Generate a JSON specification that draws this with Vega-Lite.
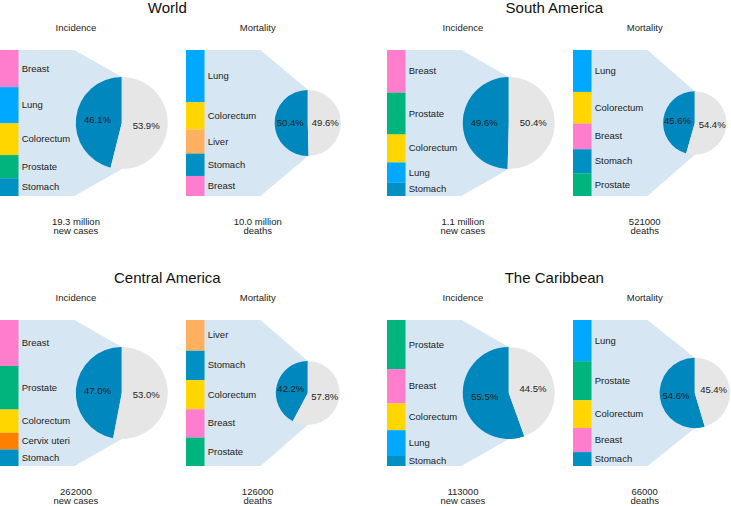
{
  "$schema": "https://vega.github.io/schema/vega-lite/v6.json",
  "padding": {"top": 1, "left": 0, "right": 0, "bottom": 0},
  "bounds": "flush",
  "columns": 4,
  "align": "each",
  "spacing": {"row": 124, "column": 40},
  "config": {"view": {"stroke": null}, "font": "Liberation Sans", "text": {"font": "Liberation Sans", "color": "#222222"}},
  "datasets": {
    "sites": [
      {"region": "World", "measure": "Incidence", "site": "Breast", "rank": 1, "share": 11.7},
      {"region": "World", "measure": "Incidence", "site": "Lung", "rank": 2, "share": 11.4},
      {"region": "World", "measure": "Incidence", "site": "Colorectum", "rank": 3, "share": 10.0},
      {"region": "World", "measure": "Incidence", "site": "Prostate", "rank": 4, "share": 7.3},
      {"region": "World", "measure": "Incidence", "site": "Stomach", "rank": 5, "share": 5.6},
      {"region": "World", "measure": "Mortality", "site": "Lung", "rank": 1, "share": 18.0},
      {"region": "World", "measure": "Mortality", "site": "Colorectum", "rank": 2, "share": 9.4},
      {"region": "World", "measure": "Mortality", "site": "Liver", "rank": 3, "share": 8.3},
      {"region": "World", "measure": "Mortality", "site": "Stomach", "rank": 4, "share": 7.7},
      {"region": "World", "measure": "Mortality", "site": "Breast", "rank": 5, "share": 6.9},
      {"region": "South America", "measure": "Incidence", "site": "Breast", "rank": 1, "share": 14.5},
      {"region": "South America", "measure": "Incidence", "site": "Prostate", "rank": 2, "share": 14.2},
      {"region": "South America", "measure": "Incidence", "site": "Colorectum", "rank": 3, "share": 9.5},
      {"region": "South America", "measure": "Incidence", "site": "Lung", "rank": 4, "share": 6.9},
      {"region": "South America", "measure": "Incidence", "site": "Stomach", "rank": 5, "share": 4.5},
      {"region": "South America", "measure": "Mortality", "site": "Lung", "rank": 1, "share": 13.1},
      {"region": "South America", "measure": "Mortality", "site": "Colorectum", "rank": 2, "share": 9.9},
      {"region": "South America", "measure": "Mortality", "site": "Breast", "rank": 3, "share": 8.0},
      {"region": "South America", "measure": "Mortality", "site": "Stomach", "rank": 4, "share": 7.5},
      {"region": "South America", "measure": "Mortality", "site": "Prostate", "rank": 5, "share": 7.1},
      {"region": "Central America", "measure": "Incidence", "site": "Breast", "rank": 1, "share": 14.8},
      {"region": "Central America", "measure": "Incidence", "site": "Prostate", "rank": 2, "share": 14.0},
      {"region": "Central America", "measure": "Incidence", "site": "Colorectum", "rank": 3, "share": 7.5},
      {"region": "Central America", "measure": "Incidence", "site": "Cervix uteri", "rank": 4, "share": 5.4},
      {"region": "Central America", "measure": "Incidence", "site": "Stomach", "rank": 5, "share": 5.3},
      {"region": "Central America", "measure": "Mortality", "site": "Liver", "rank": 1, "share": 8.9},
      {"region": "Central America", "measure": "Mortality", "site": "Stomach", "rank": 2, "share": 8.5},
      {"region": "Central America", "measure": "Mortality", "site": "Colorectum", "rank": 3, "share": 8.4},
      {"region": "Central America", "measure": "Mortality", "site": "Breast", "rank": 4, "share": 8.2},
      {"region": "Central America", "measure": "Mortality", "site": "Prostate", "rank": 5, "share": 8.2},
      {"region": "The Caribbean", "measure": "Incidence", "site": "Prostate", "rank": 1, "share": 18.7},
      {"region": "The Caribbean", "measure": "Incidence", "site": "Breast", "rank": 2, "share": 13.0},
      {"region": "The Caribbean", "measure": "Incidence", "site": "Colorectum", "rank": 3, "share": 10.2},
      {"region": "The Caribbean", "measure": "Incidence", "site": "Lung", "rank": 4, "share": 9.8},
      {"region": "The Caribbean", "measure": "Incidence", "site": "Stomach", "rank": 5, "share": 3.8},
      {"region": "The Caribbean", "measure": "Mortality", "site": "Lung", "rank": 1, "share": 15.4},
      {"region": "The Caribbean", "measure": "Mortality", "site": "Prostate", "rank": 2, "share": 14.6},
      {"region": "The Caribbean", "measure": "Mortality", "site": "Colorectum", "rank": 3, "share": 10.4},
      {"region": "The Caribbean", "measure": "Mortality", "site": "Breast", "rank": 4, "share": 9.0},
      {"region": "The Caribbean", "measure": "Mortality", "site": "Stomach", "rank": 5, "share": 5.2}
    ],
    "pies": [
      {"region": "World", "measure": "Incidence", "part": "Top 5 cancers", "share": 0.461, "total": 19300000},
      {"region": "World", "measure": "Incidence", "part": "Other cancers", "share": 0.539, "total": 19300000},
      {"region": "World", "measure": "Mortality", "part": "Top 5 cancers", "share": 0.504, "total": 10000000},
      {"region": "World", "measure": "Mortality", "part": "Other cancers", "share": 0.496, "total": 10000000},
      {"region": "South America", "measure": "Incidence", "part": "Top 5 cancers", "share": 0.496, "total": 1100000},
      {"region": "South America", "measure": "Incidence", "part": "Other cancers", "share": 0.504, "total": 1100000},
      {"region": "South America", "measure": "Mortality", "part": "Top 5 cancers", "share": 0.456, "total": 521000},
      {"region": "South America", "measure": "Mortality", "part": "Other cancers", "share": 0.544, "total": 521000},
      {"region": "Central America", "measure": "Incidence", "part": "Top 5 cancers", "share": 0.470, "total": 262000},
      {"region": "Central America", "measure": "Incidence", "part": "Other cancers", "share": 0.530, "total": 262000},
      {"region": "Central America", "measure": "Mortality", "part": "Top 5 cancers", "share": 0.422, "total": 126000},
      {"region": "Central America", "measure": "Mortality", "part": "Other cancers", "share": 0.578, "total": 126000},
      {"region": "The Caribbean", "measure": "Incidence", "part": "Top 5 cancers", "share": 0.555, "total": 113000},
      {"region": "The Caribbean", "measure": "Incidence", "part": "Other cancers", "share": 0.445, "total": 113000},
      {"region": "The Caribbean", "measure": "Mortality", "part": "Top 5 cancers", "share": 0.546, "total": 66000},
      {"region": "The Caribbean", "measure": "Mortality", "part": "Other cancers", "share": 0.454, "total": 66000}
    ],
    "captions": [
      {"region": "World", "measure": "Incidence", "caption": "19.3 million\nnew cases"},
      {"region": "World", "measure": "Mortality", "caption": "10.0 million\ndeaths"},
      {"region": "South America", "measure": "Incidence", "caption": "1.1 million\nnew cases"},
      {"region": "South America", "measure": "Mortality", "caption": "521000\ndeaths"},
      {"region": "Central America", "measure": "Incidence", "caption": "262000\nnew cases"},
      {"region": "Central America", "measure": "Mortality", "caption": "126000\ndeaths"},
      {"region": "The Caribbean", "measure": "Incidence", "caption": "113000\nnew cases"},
      {"region": "The Caribbean", "measure": "Mortality", "caption": "66000\ndeaths"}
    ],
    "funnel": [
      {"region": "World", "measure": "Incidence", "x": 0, "top": 1, "bottom": 0},
      {"region": "World", "measure": "Incidence", "x": 51, "top": 1, "bottom": 0},
      {"region": "World", "measure": "Incidence", "x": 83.4, "top": 0.815, "bottom": 0.185},
      {"region": "World", "measure": "Mortality", "x": 0, "top": 1, "bottom": 0},
      {"region": "World", "measure": "Mortality", "x": 51, "top": 1, "bottom": 0},
      {"region": "World", "measure": "Mortality", "x": 83.4, "top": 0.727, "bottom": 0.273},
      {"region": "South America", "measure": "Incidence", "x": 0, "top": 1, "bottom": 0},
      {"region": "South America", "measure": "Incidence", "x": 51, "top": 1, "bottom": 0},
      {"region": "South America", "measure": "Incidence", "x": 83.4, "top": 0.815, "bottom": 0.185},
      {"region": "South America", "measure": "Mortality", "x": 0, "top": 1, "bottom": 0},
      {"region": "South America", "measure": "Mortality", "x": 51, "top": 1, "bottom": 0},
      {"region": "South America", "measure": "Mortality", "x": 83.4, "top": 0.717, "bottom": 0.283},
      {"region": "Central America", "measure": "Incidence", "x": 0, "top": 1, "bottom": 0},
      {"region": "Central America", "measure": "Incidence", "x": 51, "top": 1, "bottom": 0},
      {"region": "Central America", "measure": "Incidence", "x": 83.4, "top": 0.815, "bottom": 0.185},
      {"region": "Central America", "measure": "Mortality", "x": 0, "top": 1, "bottom": 0},
      {"region": "Central America", "measure": "Mortality", "x": 51, "top": 1, "bottom": 0},
      {"region": "Central America", "measure": "Mortality", "x": 83.4, "top": 0.719, "bottom": 0.281},
      {"region": "The Caribbean", "measure": "Incidence", "x": 0, "top": 1, "bottom": 0},
      {"region": "The Caribbean", "measure": "Incidence", "x": 51, "top": 1, "bottom": 0},
      {"region": "The Caribbean", "measure": "Incidence", "x": 83.4, "top": 0.815, "bottom": 0.185},
      {"region": "The Caribbean", "measure": "Mortality", "x": 0, "top": 1, "bottom": 0},
      {"region": "The Caribbean", "measure": "Mortality", "x": 51, "top": 1, "bottom": 0},
      {"region": "The Caribbean", "measure": "Mortality", "x": 83.4, "top": 0.741, "bottom": 0.259}
    ]
  },
  "concat": [
    {
      "width": 146, "height": 146,
      "layer": [
        {"data": {"name": "funnel"}, "transform": [{"filter": "datum.region == 'World' && datum.measure == 'Incidence'"}],
         "mark": {"type": "area", "color": "#D6E6F2"},
         "encoding": {"x": {"field": "x", "type": "quantitative", "scale": {"domain": [0, 100], "nice": false, "zero": false}, "axis": null},
                      "y": {"field": "top", "type": "quantitative", "scale": {"domain": [0, 1], "nice": false, "zero": false}, "axis": null},
                      "y2": {"field": "bottom"}}},
        {"data": {"name": "sites"}, "transform": [{"filter": "datum.region == 'World' && datum.measure == 'Incidence'"}, {"stack": "share", "groupby": ["region", "measure"], "sort": [{"field": "rank", "order": "descending"}], "offset": "normalize", "as": ["y0", "y1"]}],
         "mark": {"type": "rect"},
         "encoding": {"x": {"datum": 0, "scale": {"domain": [0, 100], "nice": false, "zero": false}, "axis": null},
                      "x2": {"datum": 12.67},
                      "y": {"field": "y0", "type": "quantitative", "scale": {"domain": [0, 1], "nice": false, "zero": false}, "axis": null},
                      "y2": {"field": "y1"},
                      "color": {"field": "site", "type": "nominal", "legend": null, "scale": {"domain": ["Breast", "Lung", "Colorectum", "Prostate", "Stomach", "Liver", "Cervix uteri"], "range": ["#FF7DCD", "#00A9FF", "#FFD600", "#00B47D", "#0090C2", "#FFB061", "#FF7F00"]}}}},
        {"data": {"name": "sites"}, "transform": [{"filter": "datum.region == 'World' && datum.measure == 'Incidence'"}],
         "mark": {"type": "text", "align": "left", "baseline": "middle", "fontSize": 9.5, "dx": -51.3},
         "encoding": {"y": {"field": "share", "type": "quantitative", "stack": "normalize", "bandPosition": 0.5, "scale": {"domain": [0, 1], "nice": false, "zero": false}, "axis": null},
                      "detail": {"field": "site"},
                      "order": {"field": "rank", "sort": "descending"},
                      "text": {"field": "site"}}},
        {"data": {"name": "pies"}, "transform": [{"filter": "datum.region == 'World' && datum.measure == 'Incidence'"}, {"stack": "share", "groupby": ["region", "measure"], "sort": [{"field": "part", "order": "ascending"}], "as": ["t0", "t1"]}],
         "mark": {"type": "arc"},
         "encoding": {"x": {"datum": 83.4, "stack": null, "scale": {"domain": [0, 100], "nice": false, "zero": false}, "axis": null},
                      "y": {"datum": 0.5, "scale": {"domain": [0, 1], "nice": false, "zero": false}, "axis": null},
                      "theta": {"field": "t0", "type": "quantitative", "scale": {"domain": [0, 1]}},
                      "theta2": {"field": "t1"},
                      "radius": {"field": "total", "type": "quantitative", "scale": {"type": "sqrt", "domain": [0, 19300000], "range": [0, 46], "zero": true}},
                      "fill": {"field": "part", "type": "nominal", "legend": null, "scale": {"domain": ["Top 5 cancers", "Other cancers"], "range": ["#0087BE", "#E6E6E6"]}}}},
        {"data": {"name": "pies"}, "transform": [{"filter": "datum.region == 'World' && datum.measure == 'Incidence'"}],
         "mark": {"type": "text", "fontSize": 9.5, "align": "center", "baseline": "middle", "dx": 48.8},
         "encoding": {"theta": {"field": "share", "type": "quantitative", "stack": true, "scale": {"domain": [0, 1]}},
                      "radius": {"value": 24.5},
                      "detail": {"field": "part"},
                      "order": {"field": "part", "sort": "ascending"},
                      "text": {"field": "share", "type": "quantitative", "format": ".1%"}}},
        {"data": {"name": "captions"}, "transform": [{"filter": "datum.region == 'World' && datum.measure == 'Incidence'"}],
         "mark": {"type": "text", "fontSize": 9.5, "align": "center", "baseline": "top", "lineBreak": "\n", "lineHeight": 9.5},
         "encoding": {"x": {"datum": 52, "scale": {"domain": [0, 100], "nice": false, "zero": false}, "axis": null},
                      "y": {"datum": -0.142, "scale": {"domain": [0, 1], "nice": false, "zero": false}, "axis": null},
                      "text": {"field": "caption"}}},
        {"data": {"name": "captions"}, "transform": [{"filter": "datum.region == 'World' && datum.measure == 'Incidence'"}],
         "mark": {"type": "text", "fontSize": 9.5, "align": "center", "baseline": "alphabetic"},
         "encoding": {"x": {"datum": 52, "scale": {"domain": [0, 100], "nice": false, "zero": false}, "axis": null},
                      "y": {"datum": 1.127, "scale": {"domain": [0, 1], "nice": false, "zero": false}, "axis": null},
                      "text": {"field": "measure"}}},
        {"data": {"name": "captions"}, "transform": [{"filter": "datum.region == 'World' && datum.measure == 'Incidence'"}],
         "mark": {"type": "text", "fontSize": 15, "align": "center", "baseline": "alphabetic", "color": "#111111"},
         "encoding": {"x": {"datum": 114.6, "scale": {"domain": [0, 100], "nice": false, "zero": false}, "axis": null},
                      "y": {"datum": 1.2534, "scale": {"domain": [0, 1], "nice": false, "zero": false}, "axis": null},
                      "text": {"field": "region"}}}
      ]
    },
    {
      "width": 160.6, "height": 146,
      "layer": [
        {"data": {"name": "funnel"}, "transform": [{"filter": "datum.region == 'World' && datum.measure == 'Mortality'"}],
         "mark": {"type": "area", "color": "#D6E6F2"},
         "encoding": {"x": {"field": "x", "type": "quantitative", "scale": {"domain": [0, 110], "nice": false, "zero": false}, "axis": null},
                      "y": {"field": "top", "type": "quantitative", "scale": {"domain": [0, 1], "nice": false, "zero": false}, "axis": null},
                      "y2": {"field": "bottom"}}},
        {"data": {"name": "sites"}, "transform": [{"filter": "datum.region == 'World' && datum.measure == 'Mortality'"}, {"stack": "share", "groupby": ["region", "measure"], "sort": [{"field": "rank", "order": "descending"}], "offset": "normalize", "as": ["y0", "y1"]}],
         "mark": {"type": "rect"},
         "encoding": {"x": {"datum": 0, "scale": {"domain": [0, 110], "nice": false, "zero": false}, "axis": null},
                      "x2": {"datum": 12.67},
                      "y": {"field": "y0", "type": "quantitative", "scale": {"domain": [0, 1], "nice": false, "zero": false}, "axis": null},
                      "y2": {"field": "y1"},
                      "color": {"field": "site", "type": "nominal", "legend": null, "scale": {"domain": ["Breast", "Lung", "Colorectum", "Prostate", "Stomach", "Liver", "Cervix uteri"], "range": ["#FF7DCD", "#00A9FF", "#FFD600", "#00B47D", "#0090C2", "#FFB061", "#FF7F00"]}}}},
        {"data": {"name": "sites"}, "transform": [{"filter": "datum.region == 'World' && datum.measure == 'Mortality'"}],
         "mark": {"type": "text", "align": "left", "baseline": "middle", "fontSize": 9.5, "dx": -58.6},
         "encoding": {"y": {"field": "share", "type": "quantitative", "stack": "normalize", "bandPosition": 0.5, "scale": {"domain": [0, 1], "nice": false, "zero": false}, "axis": null},
                      "detail": {"field": "site"},
                      "order": {"field": "rank", "sort": "descending"},
                      "text": {"field": "site"}}},
        {"data": {"name": "pies"}, "transform": [{"filter": "datum.region == 'World' && datum.measure == 'Mortality'"}, {"stack": "share", "groupby": ["region", "measure"], "sort": [{"field": "part", "order": "ascending"}], "as": ["t0", "t1"]}],
         "mark": {"type": "arc"},
         "encoding": {"x": {"datum": 83.4, "stack": null, "scale": {"domain": [0, 110], "nice": false, "zero": false}, "axis": null},
                      "y": {"datum": 0.5, "scale": {"domain": [0, 1], "nice": false, "zero": false}, "axis": null},
                      "theta": {"field": "t0", "type": "quantitative", "scale": {"domain": [0, 1]}},
                      "theta2": {"field": "t1"},
                      "radius": {"field": "total", "type": "quantitative", "scale": {"type": "sqrt", "domain": [0, 19300000], "range": [0, 46], "zero": true}},
                      "fill": {"field": "part", "type": "nominal", "legend": null, "scale": {"domain": ["Top 5 cancers", "Other cancers"], "range": ["#0087BE", "#E6E6E6"]}}}},
        {"data": {"name": "pies"}, "transform": [{"filter": "datum.region == 'World' && datum.measure == 'Mortality'"}],
         "mark": {"type": "text", "fontSize": 9.5, "align": "center", "baseline": "middle", "dx": 41.5},
         "encoding": {"theta": {"field": "share", "type": "quantitative", "stack": true, "scale": {"domain": [0, 1]}},
                      "radius": {"value": 17.5},
                      "detail": {"field": "part"},
                      "order": {"field": "part", "sort": "ascending"},
                      "text": {"field": "share", "type": "quantitative", "format": ".1%"}}},
        {"data": {"name": "captions"}, "transform": [{"filter": "datum.region == 'World' && datum.measure == 'Mortality'"}],
         "mark": {"type": "text", "fontSize": 9.5, "align": "center", "baseline": "top", "lineBreak": "\n", "lineHeight": 9.5},
         "encoding": {"x": {"datum": 49.1, "scale": {"domain": [0, 110], "nice": false, "zero": false}, "axis": null},
                      "y": {"datum": -0.142, "scale": {"domain": [0, 1], "nice": false, "zero": false}, "axis": null},
                      "text": {"field": "caption"}}},
        {"data": {"name": "captions"}, "transform": [{"filter": "datum.region == 'World' && datum.measure == 'Mortality'"}],
         "mark": {"type": "text", "fontSize": 9.5, "align": "center", "baseline": "alphabetic"},
         "encoding": {"x": {"datum": 49.1, "scale": {"domain": [0, 110], "nice": false, "zero": false}, "axis": null},
                      "y": {"datum": 1.127, "scale": {"domain": [0, 1], "nice": false, "zero": false}, "axis": null},
                      "text": {"field": "measure"}}}
      ]
    },
    {
      "width": 146, "height": 146,
      "layer": [
        {"data": {"name": "funnel"}, "transform": [{"filter": "datum.region == 'South America' && datum.measure == 'Incidence'"}],
         "mark": {"type": "area", "color": "#D6E6F2"},
         "encoding": {"x": {"field": "x", "type": "quantitative", "scale": {"domain": [0, 100], "nice": false, "zero": false}, "axis": null},
                      "y": {"field": "top", "type": "quantitative", "scale": {"domain": [0, 1], "nice": false, "zero": false}, "axis": null},
                      "y2": {"field": "bottom"}}},
        {"data": {"name": "sites"}, "transform": [{"filter": "datum.region == 'South America' && datum.measure == 'Incidence'"}, {"stack": "share", "groupby": ["region", "measure"], "sort": [{"field": "rank", "order": "descending"}], "offset": "normalize", "as": ["y0", "y1"]}],
         "mark": {"type": "rect"},
         "encoding": {"x": {"datum": 0, "scale": {"domain": [0, 100], "nice": false, "zero": false}, "axis": null},
                      "x2": {"datum": 12.67},
                      "y": {"field": "y0", "type": "quantitative", "scale": {"domain": [0, 1], "nice": false, "zero": false}, "axis": null},
                      "y2": {"field": "y1"},
                      "color": {"field": "site", "type": "nominal", "legend": null, "scale": {"domain": ["Breast", "Lung", "Colorectum", "Prostate", "Stomach", "Liver", "Cervix uteri"], "range": ["#FF7DCD", "#00A9FF", "#FFD600", "#00B47D", "#0090C2", "#FFB061", "#FF7F00"]}}}},
        {"data": {"name": "sites"}, "transform": [{"filter": "datum.region == 'South America' && datum.measure == 'Incidence'"}],
         "mark": {"type": "text", "align": "left", "baseline": "middle", "fontSize": 9.5, "dx": -51.3},
         "encoding": {"y": {"field": "share", "type": "quantitative", "stack": "normalize", "bandPosition": 0.5, "scale": {"domain": [0, 1], "nice": false, "zero": false}, "axis": null},
                      "detail": {"field": "site"},
                      "order": {"field": "rank", "sort": "descending"},
                      "text": {"field": "site"}}},
        {"data": {"name": "pies"}, "transform": [{"filter": "datum.region == 'South America' && datum.measure == 'Incidence'"}, {"stack": "share", "groupby": ["region", "measure"], "sort": [{"field": "part", "order": "ascending"}], "as": ["t0", "t1"]}],
         "mark": {"type": "arc"},
         "encoding": {"x": {"datum": 83.4, "stack": null, "scale": {"domain": [0, 100], "nice": false, "zero": false}, "axis": null},
                      "y": {"datum": 0.5, "scale": {"domain": [0, 1], "nice": false, "zero": false}, "axis": null},
                      "theta": {"field": "t0", "type": "quantitative", "scale": {"domain": [0, 1]}},
                      "theta2": {"field": "t1"},
                      "radius": {"field": "total", "type": "quantitative", "scale": {"type": "sqrt", "domain": [0, 1100000], "range": [0, 46], "zero": true}},
                      "fill": {"field": "part", "type": "nominal", "legend": null, "scale": {"domain": ["Top 5 cancers", "Other cancers"], "range": ["#0087BE", "#E6E6E6"]}}}},
        {"data": {"name": "pies"}, "transform": [{"filter": "datum.region == 'South America' && datum.measure == 'Incidence'"}],
         "mark": {"type": "text", "fontSize": 9.5, "align": "center", "baseline": "middle", "dx": 48.8},
         "encoding": {"theta": {"field": "share", "type": "quantitative", "stack": true, "scale": {"domain": [0, 1]}},
                      "radius": {"value": 24.5},
                      "detail": {"field": "part"},
                      "order": {"field": "part", "sort": "ascending"},
                      "text": {"field": "share", "type": "quantitative", "format": ".1%"}}},
        {"data": {"name": "captions"}, "transform": [{"filter": "datum.region == 'South America' && datum.measure == 'Incidence'"}],
         "mark": {"type": "text", "fontSize": 9.5, "align": "center", "baseline": "top", "lineBreak": "\n", "lineHeight": 9.5},
         "encoding": {"x": {"datum": 52, "scale": {"domain": [0, 100], "nice": false, "zero": false}, "axis": null},
                      "y": {"datum": -0.142, "scale": {"domain": [0, 1], "nice": false, "zero": false}, "axis": null},
                      "text": {"field": "caption"}}},
        {"data": {"name": "captions"}, "transform": [{"filter": "datum.region == 'South America' && datum.measure == 'Incidence'"}],
         "mark": {"type": "text", "fontSize": 9.5, "align": "center", "baseline": "alphabetic"},
         "encoding": {"x": {"datum": 52, "scale": {"domain": [0, 100], "nice": false, "zero": false}, "axis": null},
                      "y": {"datum": 1.127, "scale": {"domain": [0, 1], "nice": false, "zero": false}, "axis": null},
                      "text": {"field": "measure"}}},
        {"data": {"name": "captions"}, "transform": [{"filter": "datum.region == 'South America' && datum.measure == 'Incidence'"}],
         "mark": {"type": "text", "fontSize": 15, "align": "center", "baseline": "alphabetic", "color": "#111111"},
         "encoding": {"x": {"datum": 114.6, "scale": {"domain": [0, 100], "nice": false, "zero": false}, "axis": null},
                      "y": {"datum": 1.2534, "scale": {"domain": [0, 1], "nice": false, "zero": false}, "axis": null},
                      "text": {"field": "region"}}}
      ]
    },
    {
      "width": 160.6, "height": 146,
      "layer": [
        {"data": {"name": "funnel"}, "transform": [{"filter": "datum.region == 'South America' && datum.measure == 'Mortality'"}],
         "mark": {"type": "area", "color": "#D6E6F2"},
         "encoding": {"x": {"field": "x", "type": "quantitative", "scale": {"domain": [0, 110], "nice": false, "zero": false}, "axis": null},
                      "y": {"field": "top", "type": "quantitative", "scale": {"domain": [0, 1], "nice": false, "zero": false}, "axis": null},
                      "y2": {"field": "bottom"}}},
        {"data": {"name": "sites"}, "transform": [{"filter": "datum.region == 'South America' && datum.measure == 'Mortality'"}, {"stack": "share", "groupby": ["region", "measure"], "sort": [{"field": "rank", "order": "descending"}], "offset": "normalize", "as": ["y0", "y1"]}],
         "mark": {"type": "rect"},
         "encoding": {"x": {"datum": 0, "scale": {"domain": [0, 110], "nice": false, "zero": false}, "axis": null},
                      "x2": {"datum": 12.67},
                      "y": {"field": "y0", "type": "quantitative", "scale": {"domain": [0, 1], "nice": false, "zero": false}, "axis": null},
                      "y2": {"field": "y1"},
                      "color": {"field": "site", "type": "nominal", "legend": null, "scale": {"domain": ["Breast", "Lung", "Colorectum", "Prostate", "Stomach", "Liver", "Cervix uteri"], "range": ["#FF7DCD", "#00A9FF", "#FFD600", "#00B47D", "#0090C2", "#FFB061", "#FF7F00"]}}}},
        {"data": {"name": "sites"}, "transform": [{"filter": "datum.region == 'South America' && datum.measure == 'Mortality'"}],
         "mark": {"type": "text", "align": "left", "baseline": "middle", "fontSize": 9.5, "dx": -58.6},
         "encoding": {"y": {"field": "share", "type": "quantitative", "stack": "normalize", "bandPosition": 0.5, "scale": {"domain": [0, 1], "nice": false, "zero": false}, "axis": null},
                      "detail": {"field": "site"},
                      "order": {"field": "rank", "sort": "descending"},
                      "text": {"field": "site"}}},
        {"data": {"name": "pies"}, "transform": [{"filter": "datum.region == 'South America' && datum.measure == 'Mortality'"}, {"stack": "share", "groupby": ["region", "measure"], "sort": [{"field": "part", "order": "ascending"}], "as": ["t0", "t1"]}],
         "mark": {"type": "arc"},
         "encoding": {"x": {"datum": 83.4, "stack": null, "scale": {"domain": [0, 110], "nice": false, "zero": false}, "axis": null},
                      "y": {"datum": 0.5, "scale": {"domain": [0, 1], "nice": false, "zero": false}, "axis": null},
                      "theta": {"field": "t0", "type": "quantitative", "scale": {"domain": [0, 1]}},
                      "theta2": {"field": "t1"},
                      "radius": {"field": "total", "type": "quantitative", "scale": {"type": "sqrt", "domain": [0, 1100000], "range": [0, 46], "zero": true}},
                      "fill": {"field": "part", "type": "nominal", "legend": null, "scale": {"domain": ["Top 5 cancers", "Other cancers"], "range": ["#0087BE", "#E6E6E6"]}}}},
        {"data": {"name": "pies"}, "transform": [{"filter": "datum.region == 'South America' && datum.measure == 'Mortality'"}],
         "mark": {"type": "text", "fontSize": 9.5, "align": "center", "baseline": "middle", "dx": 41.5},
         "encoding": {"theta": {"field": "share", "type": "quantitative", "stack": true, "scale": {"domain": [0, 1]}},
                      "radius": {"value": 17.5},
                      "detail": {"field": "part"},
                      "order": {"field": "part", "sort": "ascending"},
                      "text": {"field": "share", "type": "quantitative", "format": ".1%"}}},
        {"data": {"name": "captions"}, "transform": [{"filter": "datum.region == 'South America' && datum.measure == 'Mortality'"}],
         "mark": {"type": "text", "fontSize": 9.5, "align": "center", "baseline": "top", "lineBreak": "\n", "lineHeight": 9.5},
         "encoding": {"x": {"datum": 49.1, "scale": {"domain": [0, 110], "nice": false, "zero": false}, "axis": null},
                      "y": {"datum": -0.142, "scale": {"domain": [0, 1], "nice": false, "zero": false}, "axis": null},
                      "text": {"field": "caption"}}},
        {"data": {"name": "captions"}, "transform": [{"filter": "datum.region == 'South America' && datum.measure == 'Mortality'"}],
         "mark": {"type": "text", "fontSize": 9.5, "align": "center", "baseline": "alphabetic"},
         "encoding": {"x": {"datum": 49.1, "scale": {"domain": [0, 110], "nice": false, "zero": false}, "axis": null},
                      "y": {"datum": 1.127, "scale": {"domain": [0, 1], "nice": false, "zero": false}, "axis": null},
                      "text": {"field": "measure"}}}
      ]
    },
    {
      "width": 146, "height": 146,
      "layer": [
        {"data": {"name": "funnel"}, "transform": [{"filter": "datum.region == 'Central America' && datum.measure == 'Incidence'"}],
         "mark": {"type": "area", "color": "#D6E6F2"},
         "encoding": {"x": {"field": "x", "type": "quantitative", "scale": {"domain": [0, 100], "nice": false, "zero": false}, "axis": null},
                      "y": {"field": "top", "type": "quantitative", "scale": {"domain": [0, 1], "nice": false, "zero": false}, "axis": null},
                      "y2": {"field": "bottom"}}},
        {"data": {"name": "sites"}, "transform": [{"filter": "datum.region == 'Central America' && datum.measure == 'Incidence'"}, {"stack": "share", "groupby": ["region", "measure"], "sort": [{"field": "rank", "order": "descending"}], "offset": "normalize", "as": ["y0", "y1"]}],
         "mark": {"type": "rect"},
         "encoding": {"x": {"datum": 0, "scale": {"domain": [0, 100], "nice": false, "zero": false}, "axis": null},
                      "x2": {"datum": 12.67},
                      "y": {"field": "y0", "type": "quantitative", "scale": {"domain": [0, 1], "nice": false, "zero": false}, "axis": null},
                      "y2": {"field": "y1"},
                      "color": {"field": "site", "type": "nominal", "legend": null, "scale": {"domain": ["Breast", "Lung", "Colorectum", "Prostate", "Stomach", "Liver", "Cervix uteri"], "range": ["#FF7DCD", "#00A9FF", "#FFD600", "#00B47D", "#0090C2", "#FFB061", "#FF7F00"]}}}},
        {"data": {"name": "sites"}, "transform": [{"filter": "datum.region == 'Central America' && datum.measure == 'Incidence'"}],
         "mark": {"type": "text", "align": "left", "baseline": "middle", "fontSize": 9.5, "dx": -51.3},
         "encoding": {"y": {"field": "share", "type": "quantitative", "stack": "normalize", "bandPosition": 0.5, "scale": {"domain": [0, 1], "nice": false, "zero": false}, "axis": null},
                      "detail": {"field": "site"},
                      "order": {"field": "rank", "sort": "descending"},
                      "text": {"field": "site"}}},
        {"data": {"name": "pies"}, "transform": [{"filter": "datum.region == 'Central America' && datum.measure == 'Incidence'"}, {"stack": "share", "groupby": ["region", "measure"], "sort": [{"field": "part", "order": "ascending"}], "as": ["t0", "t1"]}],
         "mark": {"type": "arc"},
         "encoding": {"x": {"datum": 83.4, "stack": null, "scale": {"domain": [0, 100], "nice": false, "zero": false}, "axis": null},
                      "y": {"datum": 0.5, "scale": {"domain": [0, 1], "nice": false, "zero": false}, "axis": null},
                      "theta": {"field": "t0", "type": "quantitative", "scale": {"domain": [0, 1]}},
                      "theta2": {"field": "t1"},
                      "radius": {"field": "total", "type": "quantitative", "scale": {"type": "sqrt", "domain": [0, 262000], "range": [0, 46], "zero": true}},
                      "fill": {"field": "part", "type": "nominal", "legend": null, "scale": {"domain": ["Top 5 cancers", "Other cancers"], "range": ["#0087BE", "#E6E6E6"]}}}},
        {"data": {"name": "pies"}, "transform": [{"filter": "datum.region == 'Central America' && datum.measure == 'Incidence'"}],
         "mark": {"type": "text", "fontSize": 9.5, "align": "center", "baseline": "middle", "dx": 48.8},
         "encoding": {"theta": {"field": "share", "type": "quantitative", "stack": true, "scale": {"domain": [0, 1]}},
                      "radius": {"value": 24.5},
                      "detail": {"field": "part"},
                      "order": {"field": "part", "sort": "ascending"},
                      "text": {"field": "share", "type": "quantitative", "format": ".1%"}}},
        {"data": {"name": "captions"}, "transform": [{"filter": "datum.region == 'Central America' && datum.measure == 'Incidence'"}],
         "mark": {"type": "text", "fontSize": 9.5, "align": "center", "baseline": "top", "lineBreak": "\n", "lineHeight": 9.5},
         "encoding": {"x": {"datum": 52, "scale": {"domain": [0, 100], "nice": false, "zero": false}, "axis": null},
                      "y": {"datum": -0.142, "scale": {"domain": [0, 1], "nice": false, "zero": false}, "axis": null},
                      "text": {"field": "caption"}}},
        {"data": {"name": "captions"}, "transform": [{"filter": "datum.region == 'Central America' && datum.measure == 'Incidence'"}],
         "mark": {"type": "text", "fontSize": 9.5, "align": "center", "baseline": "alphabetic"},
         "encoding": {"x": {"datum": 52, "scale": {"domain": [0, 100], "nice": false, "zero": false}, "axis": null},
                      "y": {"datum": 1.127, "scale": {"domain": [0, 1], "nice": false, "zero": false}, "axis": null},
                      "text": {"field": "measure"}}},
        {"data": {"name": "captions"}, "transform": [{"filter": "datum.region == 'Central America' && datum.measure == 'Incidence'"}],
         "mark": {"type": "text", "fontSize": 15, "align": "center", "baseline": "alphabetic", "color": "#111111"},
         "encoding": {"x": {"datum": 114.6, "scale": {"domain": [0, 100], "nice": false, "zero": false}, "axis": null},
                      "y": {"datum": 1.2534, "scale": {"domain": [0, 1], "nice": false, "zero": false}, "axis": null},
                      "text": {"field": "region"}}}
      ]
    },
    {
      "width": 160.6, "height": 146,
      "layer": [
        {"data": {"name": "funnel"}, "transform": [{"filter": "datum.region == 'Central America' && datum.measure == 'Mortality'"}],
         "mark": {"type": "area", "color": "#D6E6F2"},
         "encoding": {"x": {"field": "x", "type": "quantitative", "scale": {"domain": [0, 110], "nice": false, "zero": false}, "axis": null},
                      "y": {"field": "top", "type": "quantitative", "scale": {"domain": [0, 1], "nice": false, "zero": false}, "axis": null},
                      "y2": {"field": "bottom"}}},
        {"data": {"name": "sites"}, "transform": [{"filter": "datum.region == 'Central America' && datum.measure == 'Mortality'"}, {"stack": "share", "groupby": ["region", "measure"], "sort": [{"field": "rank", "order": "descending"}], "offset": "normalize", "as": ["y0", "y1"]}],
         "mark": {"type": "rect"},
         "encoding": {"x": {"datum": 0, "scale": {"domain": [0, 110], "nice": false, "zero": false}, "axis": null},
                      "x2": {"datum": 12.67},
                      "y": {"field": "y0", "type": "quantitative", "scale": {"domain": [0, 1], "nice": false, "zero": false}, "axis": null},
                      "y2": {"field": "y1"},
                      "color": {"field": "site", "type": "nominal", "legend": null, "scale": {"domain": ["Breast", "Lung", "Colorectum", "Prostate", "Stomach", "Liver", "Cervix uteri"], "range": ["#FF7DCD", "#00A9FF", "#FFD600", "#00B47D", "#0090C2", "#FFB061", "#FF7F00"]}}}},
        {"data": {"name": "sites"}, "transform": [{"filter": "datum.region == 'Central America' && datum.measure == 'Mortality'"}],
         "mark": {"type": "text", "align": "left", "baseline": "middle", "fontSize": 9.5, "dx": -58.6},
         "encoding": {"y": {"field": "share", "type": "quantitative", "stack": "normalize", "bandPosition": 0.5, "scale": {"domain": [0, 1], "nice": false, "zero": false}, "axis": null},
                      "detail": {"field": "site"},
                      "order": {"field": "rank", "sort": "descending"},
                      "text": {"field": "site"}}},
        {"data": {"name": "pies"}, "transform": [{"filter": "datum.region == 'Central America' && datum.measure == 'Mortality'"}, {"stack": "share", "groupby": ["region", "measure"], "sort": [{"field": "part", "order": "ascending"}], "as": ["t0", "t1"]}],
         "mark": {"type": "arc"},
         "encoding": {"x": {"datum": 83.4, "stack": null, "scale": {"domain": [0, 110], "nice": false, "zero": false}, "axis": null},
                      "y": {"datum": 0.5, "scale": {"domain": [0, 1], "nice": false, "zero": false}, "axis": null},
                      "theta": {"field": "t0", "type": "quantitative", "scale": {"domain": [0, 1]}},
                      "theta2": {"field": "t1"},
                      "radius": {"field": "total", "type": "quantitative", "scale": {"type": "sqrt", "domain": [0, 262000], "range": [0, 46], "zero": true}},
                      "fill": {"field": "part", "type": "nominal", "legend": null, "scale": {"domain": ["Top 5 cancers", "Other cancers"], "range": ["#0087BE", "#E6E6E6"]}}}},
        {"data": {"name": "pies"}, "transform": [{"filter": "datum.region == 'Central America' && datum.measure == 'Mortality'"}],
         "mark": {"type": "text", "fontSize": 9.5, "align": "center", "baseline": "middle", "dx": 41.5},
         "encoding": {"theta": {"field": "share", "type": "quantitative", "stack": true, "scale": {"domain": [0, 1]}},
                      "radius": {"value": 17.5},
                      "detail": {"field": "part"},
                      "order": {"field": "part", "sort": "ascending"},
                      "text": {"field": "share", "type": "quantitative", "format": ".1%"}}},
        {"data": {"name": "captions"}, "transform": [{"filter": "datum.region == 'Central America' && datum.measure == 'Mortality'"}],
         "mark": {"type": "text", "fontSize": 9.5, "align": "center", "baseline": "top", "lineBreak": "\n", "lineHeight": 9.5},
         "encoding": {"x": {"datum": 49.1, "scale": {"domain": [0, 110], "nice": false, "zero": false}, "axis": null},
                      "y": {"datum": -0.142, "scale": {"domain": [0, 1], "nice": false, "zero": false}, "axis": null},
                      "text": {"field": "caption"}}},
        {"data": {"name": "captions"}, "transform": [{"filter": "datum.region == 'Central America' && datum.measure == 'Mortality'"}],
         "mark": {"type": "text", "fontSize": 9.5, "align": "center", "baseline": "alphabetic"},
         "encoding": {"x": {"datum": 49.1, "scale": {"domain": [0, 110], "nice": false, "zero": false}, "axis": null},
                      "y": {"datum": 1.127, "scale": {"domain": [0, 1], "nice": false, "zero": false}, "axis": null},
                      "text": {"field": "measure"}}}
      ]
    },
    {
      "width": 146, "height": 146,
      "layer": [
        {"data": {"name": "funnel"}, "transform": [{"filter": "datum.region == 'The Caribbean' && datum.measure == 'Incidence'"}],
         "mark": {"type": "area", "color": "#D6E6F2"},
         "encoding": {"x": {"field": "x", "type": "quantitative", "scale": {"domain": [0, 100], "nice": false, "zero": false}, "axis": null},
                      "y": {"field": "top", "type": "quantitative", "scale": {"domain": [0, 1], "nice": false, "zero": false}, "axis": null},
                      "y2": {"field": "bottom"}}},
        {"data": {"name": "sites"}, "transform": [{"filter": "datum.region == 'The Caribbean' && datum.measure == 'Incidence'"}, {"stack": "share", "groupby": ["region", "measure"], "sort": [{"field": "rank", "order": "descending"}], "offset": "normalize", "as": ["y0", "y1"]}],
         "mark": {"type": "rect"},
         "encoding": {"x": {"datum": 0, "scale": {"domain": [0, 100], "nice": false, "zero": false}, "axis": null},
                      "x2": {"datum": 12.67},
                      "y": {"field": "y0", "type": "quantitative", "scale": {"domain": [0, 1], "nice": false, "zero": false}, "axis": null},
                      "y2": {"field": "y1"},
                      "color": {"field": "site", "type": "nominal", "legend": null, "scale": {"domain": ["Breast", "Lung", "Colorectum", "Prostate", "Stomach", "Liver", "Cervix uteri"], "range": ["#FF7DCD", "#00A9FF", "#FFD600", "#00B47D", "#0090C2", "#FFB061", "#FF7F00"]}}}},
        {"data": {"name": "sites"}, "transform": [{"filter": "datum.region == 'The Caribbean' && datum.measure == 'Incidence'"}],
         "mark": {"type": "text", "align": "left", "baseline": "middle", "fontSize": 9.5, "dx": -51.3},
         "encoding": {"y": {"field": "share", "type": "quantitative", "stack": "normalize", "bandPosition": 0.5, "scale": {"domain": [0, 1], "nice": false, "zero": false}, "axis": null},
                      "detail": {"field": "site"},
                      "order": {"field": "rank", "sort": "descending"},
                      "text": {"field": "site"}}},
        {"data": {"name": "pies"}, "transform": [{"filter": "datum.region == 'The Caribbean' && datum.measure == 'Incidence'"}, {"stack": "share", "groupby": ["region", "measure"], "sort": [{"field": "part", "order": "ascending"}], "as": ["t0", "t1"]}],
         "mark": {"type": "arc"},
         "encoding": {"x": {"datum": 83.4, "stack": null, "scale": {"domain": [0, 100], "nice": false, "zero": false}, "axis": null},
                      "y": {"datum": 0.5, "scale": {"domain": [0, 1], "nice": false, "zero": false}, "axis": null},
                      "theta": {"field": "t0", "type": "quantitative", "scale": {"domain": [0, 1]}},
                      "theta2": {"field": "t1"},
                      "radius": {"field": "total", "type": "quantitative", "scale": {"type": "sqrt", "domain": [0, 113000], "range": [0, 46], "zero": true}},
                      "fill": {"field": "part", "type": "nominal", "legend": null, "scale": {"domain": ["Top 5 cancers", "Other cancers"], "range": ["#0087BE", "#E6E6E6"]}}}},
        {"data": {"name": "pies"}, "transform": [{"filter": "datum.region == 'The Caribbean' && datum.measure == 'Incidence'"}],
         "mark": {"type": "text", "fontSize": 9.5, "align": "center", "baseline": "middle", "dx": 48.8},
         "encoding": {"theta": {"field": "share", "type": "quantitative", "stack": true, "scale": {"domain": [0, 1]}},
                      "radius": {"value": 24.5},
                      "detail": {"field": "part"},
                      "order": {"field": "part", "sort": "ascending"},
                      "text": {"field": "share", "type": "quantitative", "format": ".1%"}}},
        {"data": {"name": "captions"}, "transform": [{"filter": "datum.region == 'The Caribbean' && datum.measure == 'Incidence'"}],
         "mark": {"type": "text", "fontSize": 9.5, "align": "center", "baseline": "top", "lineBreak": "\n", "lineHeight": 9.5},
         "encoding": {"x": {"datum": 52, "scale": {"domain": [0, 100], "nice": false, "zero": false}, "axis": null},
                      "y": {"datum": -0.142, "scale": {"domain": [0, 1], "nice": false, "zero": false}, "axis": null},
                      "text": {"field": "caption"}}},
        {"data": {"name": "captions"}, "transform": [{"filter": "datum.region == 'The Caribbean' && datum.measure == 'Incidence'"}],
         "mark": {"type": "text", "fontSize": 9.5, "align": "center", "baseline": "alphabetic"},
         "encoding": {"x": {"datum": 52, "scale": {"domain": [0, 100], "nice": false, "zero": false}, "axis": null},
                      "y": {"datum": 1.127, "scale": {"domain": [0, 1], "nice": false, "zero": false}, "axis": null},
                      "text": {"field": "measure"}}},
        {"data": {"name": "captions"}, "transform": [{"filter": "datum.region == 'The Caribbean' && datum.measure == 'Incidence'"}],
         "mark": {"type": "text", "fontSize": 15, "align": "center", "baseline": "alphabetic", "color": "#111111"},
         "encoding": {"x": {"datum": 114.6, "scale": {"domain": [0, 100], "nice": false, "zero": false}, "axis": null},
                      "y": {"datum": 1.2534, "scale": {"domain": [0, 1], "nice": false, "zero": false}, "axis": null},
                      "text": {"field": "region"}}}
      ]
    },
    {
      "width": 160.6, "height": 146,
      "layer": [
        {"data": {"name": "funnel"}, "transform": [{"filter": "datum.region == 'The Caribbean' && datum.measure == 'Mortality'"}],
         "mark": {"type": "area", "color": "#D6E6F2"},
         "encoding": {"x": {"field": "x", "type": "quantitative", "scale": {"domain": [0, 110], "nice": false, "zero": false}, "axis": null},
                      "y": {"field": "top", "type": "quantitative", "scale": {"domain": [0, 1], "nice": false, "zero": false}, "axis": null},
                      "y2": {"field": "bottom"}}},
        {"data": {"name": "sites"}, "transform": [{"filter": "datum.region == 'The Caribbean' && datum.measure == 'Mortality'"}, {"stack": "share", "groupby": ["region", "measure"], "sort": [{"field": "rank", "order": "descending"}], "offset": "normalize", "as": ["y0", "y1"]}],
         "mark": {"type": "rect"},
         "encoding": {"x": {"datum": 0, "scale": {"domain": [0, 110], "nice": false, "zero": false}, "axis": null},
                      "x2": {"datum": 12.67},
                      "y": {"field": "y0", "type": "quantitative", "scale": {"domain": [0, 1], "nice": false, "zero": false}, "axis": null},
                      "y2": {"field": "y1"},
                      "color": {"field": "site", "type": "nominal", "legend": null, "scale": {"domain": ["Breast", "Lung", "Colorectum", "Prostate", "Stomach", "Liver", "Cervix uteri"], "range": ["#FF7DCD", "#00A9FF", "#FFD600", "#00B47D", "#0090C2", "#FFB061", "#FF7F00"]}}}},
        {"data": {"name": "sites"}, "transform": [{"filter": "datum.region == 'The Caribbean' && datum.measure == 'Mortality'"}],
         "mark": {"type": "text", "align": "left", "baseline": "middle", "fontSize": 9.5, "dx": -58.6},
         "encoding": {"y": {"field": "share", "type": "quantitative", "stack": "normalize", "bandPosition": 0.5, "scale": {"domain": [0, 1], "nice": false, "zero": false}, "axis": null},
                      "detail": {"field": "site"},
                      "order": {"field": "rank", "sort": "descending"},
                      "text": {"field": "site"}}},
        {"data": {"name": "pies"}, "transform": [{"filter": "datum.region == 'The Caribbean' && datum.measure == 'Mortality'"}, {"stack": "share", "groupby": ["region", "measure"], "sort": [{"field": "part", "order": "ascending"}], "as": ["t0", "t1"]}],
         "mark": {"type": "arc"},
         "encoding": {"x": {"datum": 83.4, "stack": null, "scale": {"domain": [0, 110], "nice": false, "zero": false}, "axis": null},
                      "y": {"datum": 0.5, "scale": {"domain": [0, 1], "nice": false, "zero": false}, "axis": null},
                      "theta": {"field": "t0", "type": "quantitative", "scale": {"domain": [0, 1]}},
                      "theta2": {"field": "t1"},
                      "radius": {"field": "total", "type": "quantitative", "scale": {"type": "sqrt", "domain": [0, 113000], "range": [0, 46], "zero": true}},
                      "fill": {"field": "part", "type": "nominal", "legend": null, "scale": {"domain": ["Top 5 cancers", "Other cancers"], "range": ["#0087BE", "#E6E6E6"]}}}},
        {"data": {"name": "pies"}, "transform": [{"filter": "datum.region == 'The Caribbean' && datum.measure == 'Mortality'"}],
         "mark": {"type": "text", "fontSize": 9.5, "align": "center", "baseline": "middle", "dx": 41.5},
         "encoding": {"theta": {"field": "share", "type": "quantitative", "stack": true, "scale": {"domain": [0, 1]}},
                      "radius": {"value": 19},
                      "detail": {"field": "part"},
                      "order": {"field": "part", "sort": "ascending"},
                      "text": {"field": "share", "type": "quantitative", "format": ".1%"}}},
        {"data": {"name": "captions"}, "transform": [{"filter": "datum.region == 'The Caribbean' && datum.measure == 'Mortality'"}],
         "mark": {"type": "text", "fontSize": 9.5, "align": "center", "baseline": "top", "lineBreak": "\n", "lineHeight": 9.5},
         "encoding": {"x": {"datum": 49.1, "scale": {"domain": [0, 110], "nice": false, "zero": false}, "axis": null},
                      "y": {"datum": -0.142, "scale": {"domain": [0, 1], "nice": false, "zero": false}, "axis": null},
                      "text": {"field": "caption"}}},
        {"data": {"name": "captions"}, "transform": [{"filter": "datum.region == 'The Caribbean' && datum.measure == 'Mortality'"}],
         "mark": {"type": "text", "fontSize": 9.5, "align": "center", "baseline": "alphabetic"},
         "encoding": {"x": {"datum": 49.1, "scale": {"domain": [0, 110], "nice": false, "zero": false}, "axis": null},
                      "y": {"datum": 1.127, "scale": {"domain": [0, 1], "nice": false, "zero": false}, "axis": null},
                      "text": {"field": "measure"}}}
      ]
    }
  ]
}
